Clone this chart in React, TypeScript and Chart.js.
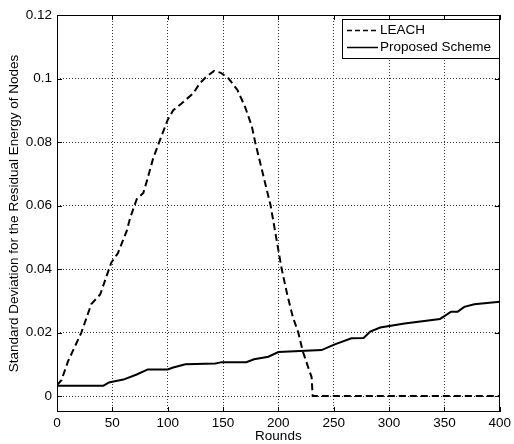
import React, { useEffect, useRef } from "react";
import { Chart, registerables } from "chart.js";

Chart.register(...registerables);

const leachRounds = [0, 4, 10, 22, 31, 39, 45, 49, 55, 63, 66, 72, 78, 81, 87, 93, 100, 105, 112, 123, 129, 135, 142, 148, 155, 163, 170, 176, 179, 186, 193, 198, 203, 208, 213, 218, 222, 226, 230, 231, 400];
const leachStd = [0.0035, 0.005, 0.011, 0.02, 0.029, 0.032, 0.038, 0.042, 0.045, 0.052, 0.056, 0.062, 0.064, 0.0675, 0.075, 0.0806, 0.087, 0.09, 0.092, 0.0953, 0.0985, 0.1006, 0.1024, 0.1018, 0.1, 0.0964, 0.091, 0.085, 0.08, 0.07, 0.06, 0.05, 0.04, 0.032, 0.025, 0.02, 0.0142, 0.01, 0.006, 0, 0];

const proposedRounds = [0, 42, 47, 50, 60, 72, 82, 100, 105, 116, 143, 149, 171, 178, 191, 200, 239, 251, 266, 277, 283, 292, 314, 346, 350, 356, 362, 368, 377, 400];
const proposedStd = [0.0033, 0.0033, 0.0043, 0.0045, 0.0052, 0.0068, 0.0084, 0.0084, 0.009, 0.01, 0.0103, 0.0107, 0.0107, 0.0116, 0.0124, 0.0139, 0.0145, 0.0163, 0.0182, 0.0183, 0.0203, 0.0216, 0.0229, 0.0243, 0.0252, 0.0266, 0.0266, 0.0281, 0.0289, 0.0297];

const seriesLabels = ["LEACH", "Proposed Scheme"];
const yTickValues = [0, 0.02, 0.04, 0.06, 0.08, 0.1, 0.12];
const xTitle = "Rounds";
const yTitle = "Standard Deviation for the Residual Energy of Nodes";

const FONT = "'Liberation Sans', Arial, Helvetica, sans-serif";
const FS = 13.5;

const framePlugin = {
  id: "frame",
  afterDraw(chart: any) {
    const { ctx, chartArea } = chart;
    const { left, right, top, bottom } = chartArea;
    ctx.save();
    ctx.strokeStyle = "#000";
    ctx.lineWidth = 1;
    ctx.setLineDash([]);
    ctx.strokeRect(Math.round(left) + 0.5, Math.round(top) + 0.5, Math.round(right - left) - 1 + 0, Math.round(bottom - top) - 1 + 0);
    const xs = chart.scales.x;
    const ys = chart.scales.y;
    const L = 5;
    ctx.beginPath();
    xs.ticks.forEach((t: any) => {
      const px = Math.round(xs.getPixelForValue(t.value)) + 0.5;
      ctx.moveTo(px, bottom);
      ctx.lineTo(px, bottom - L);
      ctx.moveTo(px, top);
      ctx.lineTo(px, top + L);
    });
    ys.ticks.forEach((t: any) => {
      const py = Math.round(ys.getPixelForValue(t.value)) + 0.5;
      ctx.moveTo(left, py);
      ctx.lineTo(left + L, py);
      ctx.moveTo(right, py);
      ctx.lineTo(right - L, py);
    });
    ctx.stroke();

    // legend box
    const bx = 342, by = 19, bw = 157, bh = 39;
    ctx.fillStyle = "#fff";
    ctx.fillRect(bx, by, bw, bh);
    ctx.strokeRect(bx + 0.5, by + 0.5, bw, bh);
    ctx.font = `${FS}px ${FONT}`;
    ctx.textBaseline = "middle";
    ctx.textAlign = "left";
    chart.data.datasets.forEach((ds: any, i: number) => {
      const cy = by + 11.5 + i * 17;
      ctx.beginPath();
      ctx.lineWidth = 1.5;
      ctx.setLineDash(i === 0 ? [5, 3] : []);
      ctx.moveTo(347, cy);
      ctx.lineTo(378, cy);
      ctx.stroke();
      ctx.setLineDash([]);
      ctx.fillStyle = "#000";
      ctx.fillText(ds.label, 380, cy);
    });
    ctx.restore();
  },
};

export default function App() {
  const ref = useRef<HTMLCanvasElement>(null);
  useEffect(() => {
    if (!ref.current) return;
    Chart.defaults.font.family = FONT;
    Chart.defaults.color = "#000";
    const chart = new Chart(ref.current, {
      type: "line",
      data: {
        datasets: [
          {
            label: seriesLabels[0],
            data: leachRounds.map((x, i) => ({ x, y: leachStd[i] })),
            borderColor: "#000",
            borderWidth: 2,
            borderDash: [7, 4],
            pointRadius: 0,
            tension: 0,
            fill: false,
          },
          {
            label: seriesLabels[1],
            data: proposedRounds.map((x, i) => ({ x, y: proposedStd[i] })),
            borderColor: "#000",
            borderWidth: 2,
            pointRadius: 0,
            tension: 0,
            fill: false,
          },
        ],
      },
      options: {
        animation: false,
        responsive: false,
        devicePixelRatio: 1,
        layout: { padding: { left: 0, right: 12, top: 15, bottom: 0 } },
        plugins: { legend: { display: false }, tooltip: { enabled: false } },
        scales: {
          x: {
            type: "linear",
            min: 0,
            max: 400,
            ticks: { stepSize: 50, padding: 3, font: { size: FS, family: FONT }, color: "#000", maxRotation: 0 },
            grid: { color: "#333", lineWidth: 1, drawTicks: false },
            border: { display: false, dash: [1, 2] },
            title: { display: true, text: xTitle, font: { size: FS, family: FONT }, color: "#000", padding: { top: 0, bottom: 0 } },
            afterFit: (s: any) => { s.height = 32; },
          },
          y: {
            type: "linear",
            min: -0.005,
            max: 0.12,
            afterBuildTicks: (s: any) => { s.ticks = yTickValues.map((v) => ({ value: v })); },
            ticks: {
              padding: 5,
              font: { size: FS, family: FONT },
              color: "#000",
              callback: (v: any) => String(Number(Number(v).toFixed(2))),
            },
            grid: { color: "#333", lineWidth: 1, drawTicks: false },
            border: { display: false, dash: [1, 2] },
            title: { display: true, text: yTitle, font: { size: FS, family: FONT }, color: "#000", padding: { top: 6, bottom: 0 } },
            afterFit: (s: any) => { s.width = 57; },
          },
        },
      } as any,
      plugins: [framePlugin],
    });
    return () => chart.destroy();
  }, []);
  return (
    <div style={{ position: "absolute", left: 0, top: 0, width: 514, height: 444, background: "#fff" }}>
      <canvas ref={ref} width={514} height={444} style={{ width: 514, height: 444, display: "block" }} />
    </div>
  );
}
